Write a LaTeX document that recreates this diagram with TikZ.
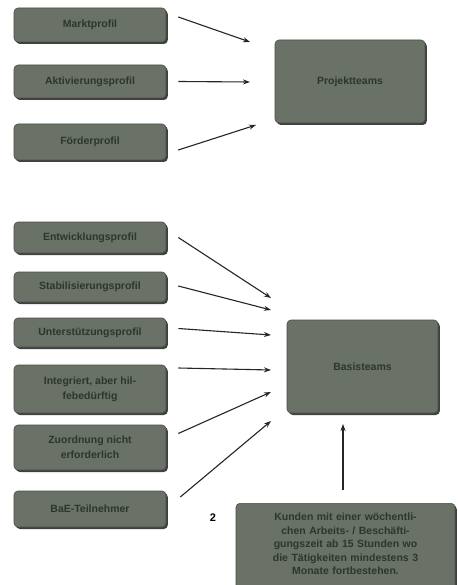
\documentclass[tikz,border=0pt]{standalone}
\usepackage{fontspec}
\setmainfont{Liberation Sans}
\usetikzlibrary{shadows,arrows.meta}
\definecolor{boxfill}{HTML}{6A7166}
\definecolor{boxtext}{HTML}{2C372C}
\definecolor{boxline}{HTML}{4A4F48}
\tikzset{
  pbox/.style={rounded corners=4pt, fill=boxfill, draw=boxline, line width=0.6pt,
    drop shadow={shadow xshift=1.8pt, shadow yshift=-2pt, fill=black!75, opacity=1},
    text=boxtext, font=\bfseries\fontsize{10.5}{15}\selectfont, align=center,
    inner sep=2pt},
  small/.style={pbox, minimum width=152pt},
  arr/.style={-{Stealth[length=7pt,width=5pt]}, line width=1.1pt, draw=black!85},
}
\begin{document}
\begin{tikzpicture}[x=1pt,y=-1pt]
\useasboundingbox[fill=white] (0,0) rectangle (457,585);
% top group
\node[small, minimum height=34pt] (markt) at (90,25) {Marktprofil};
\node[small, minimum height=33pt] (aktiv) at (90,81.5) {Aktivierungsprofil};
\node[small, minimum height=36pt] (foerd) at (90,142) {Förderprofil};
\node[pbox, minimum width=150pt, minimum height=83pt] (proj) at (350,81.5) {Projektteams};
% lower group
\node[small, minimum height=31pt] (entw) at (90,237.5) {Entwicklungsprofil};
\node[small, minimum height=30pt] (stab) at (90,287) {Stabilisierungsprofil};
\node[small, minimum height=29pt] (unter) at (90,332.5) {Unterstützungsprofil};
\node[small, minimum height=48pt] (integ) at (90,389) {Integriert, aber hil-\\febedürftig};
\node[small, minimum height=45pt] (zuord) at (90,447.5) {Zuordnung nicht\\erforderlich};
\node[small, minimum height=36pt] (bae) at (90,509) {BaE-Teilnehmer};
\node[pbox, minimum width=151pt, minimum height=93pt] (basis) at (362.5,366.5) {Basisteams};
\node[pbox, minimum width=219pt, anchor=north, text width=212pt, inner xsep=3pt, inner ysep=10pt,
      font=\bfseries\fontsize{10.5}{13.5}\selectfont] (kunden) at (345.5,503)
  {Kunden mit einer wöchentli-\\chen Arbeits- / Beschäfti-\\gungszeit ab 15 Stunden wo\\die Tätigkeiten mindestens 3\\Monate fortbestehen.\\\strut};
\node[font=\bfseries\fontsize{11}{12}\selectfont] (num) at (213,518) {2};
% arrow end points
\coordinate (p1) at (250,42);
\coordinate (p2) at (250,82);
\coordinate (p3) at (256,125);
\coordinate (b1) at (271,298);
\coordinate (b2) at (271,310);
\coordinate (b3) at (271,335);
\coordinate (b4) at (271,370);
\coordinate (b5) at (271,392);
\coordinate (b6) at (271,421);
\coordinate (k1) at (343,424);
% arrows
\draw[arr] ([xshift=12pt,yshift=8pt]markt.east) -- (p1);
\draw[arr] ([xshift=12pt]aktiv.east) -- (p2);
\draw[arr] ([xshift=12pt,yshift=-8pt]foerd.east) -- (p3);
\draw[arr] ([xshift=12pt]entw.east) -- (b1);
\draw[arr] ([xshift=12pt,yshift=1pt]stab.east) -- (b2);
\draw[arr] ([xshift=12pt,yshift=4pt]unter.east) -- (b3);
\draw[arr] ([xshift=12pt,yshift=21pt]integ.east) -- (b4);
\draw[arr] ([xshift=12pt,yshift=14pt]zuord.east) -- (b5);
\draw[arr] ([xshift=14pt,yshift=12pt]bae.east) -- (b6);
\draw[arr] ([yshift=13pt]kunden.north -| k1) -- (k1);
\end{tikzpicture}
\end{document}
